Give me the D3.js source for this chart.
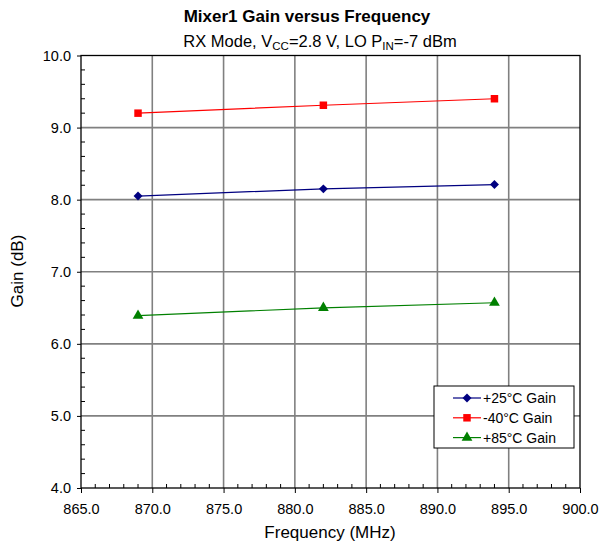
<!DOCTYPE html>
<html><head><meta charset="utf-8">
<script src="https://cdn.jsdelivr.net/npm/d3@7"></script>
<style>body{margin:0;background:#fff}text{font-family:"Liberation Sans",Arial,sans-serif}</style>
</head><body>
<svg id="c" width="599" height="546"></svg>
<script>
const freqs = [869, 882, 894];
const gain25 = [8.05, 8.15, 8.21];
const gainM40 = [9.20, 9.31, 9.40];
const gain85 = [6.39, 6.50, 6.57];
const xTicks = [865, 870, 875, 880, 885, 890, 895, 900];
const yTicks = [4, 5, 6, 7, 8, 9, 10];
const seriesNames = ["+25°C Gain", "-40°C Gain", "+85°C Gain"];

const series = [
  {name: seriesNames[0], values: gain25, color: "#000080", sym: d3.symbolSquare, size: 40, rot: 45},
  {name: seriesNames[1], values: gainM40, color: "#ff0000", sym: d3.symbolSquare, size: 56, rot: 0},
  {name: seriesNames[2], values: gain85, color: "#008000", sym: d3.symbolTriangle, size: 50, rot: 0}
];

const svg = d3.select("#c");
const L = 81, R = 580, T = 55.5, B = 488;
const x = d3.scaleLinear().domain([865, 900]).range([L, R]);
const y = d3.scaleLinear().domain([4, 10]).range([B, T]);

// gridlines
svg.append("g").selectAll("line").data(xTicks.slice(1, -1)).join("line")
  .attr("x1", d => x(d)).attr("x2", d => x(d)).attr("y1", T).attr("y2", B)
  .attr("stroke", "#808080").attr("stroke-width", 1.6);
svg.append("g").selectAll("line").data(yTicks.slice(1, -1)).join("line")
  .attr("y1", d => y(d)).attr("y2", d => y(d)).attr("x1", L).attr("x2", R)
  .attr("stroke", "#808080").attr("stroke-width", 1.6);

// frame
svg.append("rect").attr("x", L).attr("y", T).attr("width", R - L).attr("height", B - T)
  .attr("fill", "none").attr("stroke", "#000").attr("stroke-width", 1.3);

// minor ticks
const xMinor = d3.range(866, 900, 1).filter(v => v % 5 !== 0);
svg.append("g").selectAll("line").data(xMinor).join("line")
  .attr("x1", d => x(d)).attr("x2", d => x(d)).attr("y1", B).attr("y2", B - 4)
  .attr("stroke", "#000");
const yMinor = d3.range(4.2, 10, 0.2).filter(v => Math.abs(v - Math.round(v)) > 0.01);
svg.append("g").selectAll("line").data(yMinor).join("line")
  .attr("y1", d => y(d)).attr("y2", d => y(d)).attr("x1", L).attr("x2", L + 4)
  .attr("stroke", "#000");

// axes
const xAxis = d3.axisBottom(x).tickValues(xTicks).tickFormat(d3.format(".1f")).tickSizeInner(5).tickSizeOuter(0);
const gx = svg.append("g").attr("transform", `translate(0,${B})`).call(xAxis);
gx.select(".domain").remove();
gx.selectAll("text").attr("font-size", 14.5).attr("fill", "#000").attr("y", 26).attr("dy", null);
gx.selectAll("line").attr("stroke", "#000");

const yAxis = d3.axisLeft(y).tickValues(yTicks).tickFormat(d3.format(".1f")).tickSizeInner(4).tickSizeOuter(0);
const gy = svg.append("g").attr("transform", `translate(${L},0)`).call(yAxis);
gy.select(".domain").remove();
gy.selectAll("text").attr("font-size", 14.5).attr("fill", "#000").attr("x", -10);
gy.selectAll("line").attr("stroke", "#000");

// series
const line = d3.line().x((d, i) => x(freqs[i])).y(d => y(d));
series.forEach(s => {
  svg.append("path").datum(s.values).attr("d", line)
    .attr("fill", "none").attr("stroke", s.color).attr("stroke-width", 1.2);
  svg.append("g").selectAll("path").data(s.values).join("path")
    .attr("d", d3.symbol(s.sym, s.size))
    .attr("transform", (d, i) => `translate(${x(freqs[i])},${y(d)}) rotate(${s.rot})`)
    .attr("fill", s.color);
});

// titles
svg.append("text").attr("x", 307).attr("y", 22).attr("text-anchor", "middle")
  .attr("font-size", 17).attr("font-weight", "bold").text("Mixer1 Gain versus Frequency");
const sub = svg.append("text").attr("x", 320).attr("y", 47).attr("text-anchor", "middle").attr("font-size", 16.5);
sub.append("tspan").text("RX Mode, V");
sub.append("tspan").attr("font-size", 11.5).attr("dy", 3).text("CC");
sub.append("tspan").attr("dy", -3).text("=2.8 V, LO P");
sub.append("tspan").attr("font-size", 11.5).attr("dy", 3).text("IN");
sub.append("tspan").attr("dy", -3).text("=-7 dBm");

svg.append("text").attr("x", 330).attr("y", 538).attr("text-anchor", "middle")
  .attr("font-size", 17).text("Frequency (MHz)");
svg.append("text").attr("transform", "translate(23,271) rotate(-90)").attr("text-anchor", "middle")
  .attr("font-size", 17).text("Gain (dB)");

// legend
const lg = svg.append("g");
lg.append("rect").attr("x", 434).attr("y", 386).attr("width", 140).attr("height", 62)
  .attr("fill", "#fff").attr("stroke", "#000").attr("stroke-width", 1);
series.forEach((s, i) => {
  const yy = 398 + i * 19.8;
  lg.append("line").attr("x1", 453).attr("x2", 481).attr("y1", yy).attr("y2", yy)
    .attr("stroke", s.color).attr("stroke-width", 1.2);
  lg.append("path").attr("d", d3.symbol(s.sym, s.size)).attr("transform", `translate(467,${yy}) rotate(${s.rot})`).attr("fill", s.color);
  lg.append("text").attr("x", 483).attr("y", yy + 5).attr("font-size", 14).text(s.name);
});
</script>
</body></html>
